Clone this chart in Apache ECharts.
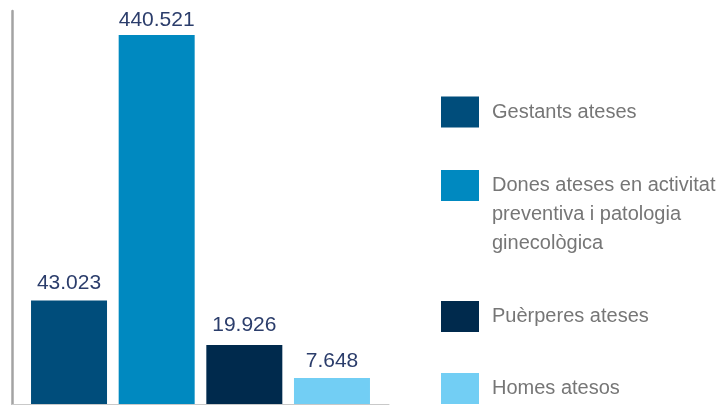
<!DOCTYPE html>
<html>
<head>
<meta charset="utf-8">
<script src="https://cdn.jsdelivr.net/npm/echarts@6/dist/echarts.min.js"></script>
<style>
html,body{margin:0;padding:0;background:#fff;}
#c{width:721px;height:405px;}
</style>
</head>
<body>
<div id="c"></div>
<script>
const categories = ['Gestants ateses', 'Dones ateses en activitat\npreventiva i patologia\nginecològica', 'Puèrperes ateses', 'Homes atesos'];
const values = [43023, 440521, 19926, 7648];
const colors = ['#004d7b', '#0089c0', '#002a4d', '#72cef4'];

function fmt(v){ return String(v).replace(/\B(?=(\d{3})+(?!\d))/g, '.'); }

const labelDist = [7, 4, 9, 6];
const legendTops = [96.5, 113, 301, 373];

const series = categories.map(function(name, i){
  return {
    name: name,
    type: 'bar',
    stack: 'all',
    xAxisIndex: 0, yAxisIndex: 0,
    barWidth: 76,
    itemStyle: { color: colors[i] },
    label: {
      show: true, position: 'top', distance: labelDist[i],
      formatter: function(p){ return fmt(p.value); },
      color: '#2b3d6b', fontSize: 21,
      fontFamily: 'Liberation Sans, Arial, sans-serif'
    },
    data: values.map(function(v, j){ return j === i ? v : '-'; })
  };
});

const legends = categories.map(function(name, i){
  return {
    data: [name],
    orient: 'vertical',
    left: 441, top: legendTops[i],
    padding: 0,
    itemWidth: 38, itemHeight: 31,
    icon: 'rect',
    selectedMode: false,
    formatter: function(n){ return name.indexOf('\n') >= 0 ? '\n\n' + n : n; },
    textStyle: {
      fontSize: 20, color: '#767676', lineHeight: 29,
      fontFamily: 'Liberation Sans, Arial, sans-serif',
      padding: [0, 0, 0, 8]
    }
  };
});

const option = {
  animation: false,
  backgroundColor: '#fff',
  legend: legends,
  grid: [
    { left: 25.2, right: 345.2, top: 11, bottom: 1 },
    { left: 12, right: 332, top: 11, bottom: 0.5 }
  ],
  xAxis: [
    { type: 'category', gridIndex: 0, data: categories, show: false },
    { type: 'value', gridIndex: 1, min: 0, max: 1,
      axisLine: { show: true, lineStyle: { color: '#c9c9c9', width: 1 } },
      axisTick: { show: false }, axisLabel: { show: false }, splitLine: { show: false } }
  ],
  yAxis: [
    { type: 'value', gridIndex: 0, min: 0, max: 447582,
      axisLine: { show: false }, axisTick: { show: false }, axisLabel: { show: false }, splitLine: { show: false },
      breaks: [
        { start: 10000, end: 12570, gap: 0 },
        { start: 25000, end: 35005, gap: 0 },
        { start: 50000, end: 369388, gap: 0 }
      ],
      breakArea: { show: false }
    },
    { type: 'value', gridIndex: 1, min: 0, max: 1,
      axisLine: { show: true, lineStyle: { color: '#a3a3a3', width: 2.5 } },
      axisTick: { show: false }, axisLabel: { show: false }, splitLine: { show: false } }
  ],
  series: series
};

const chart = echarts.init(document.getElementById('c'), null, { renderer: 'canvas' });
chart.setOption(option);
</script>
</body>
</html>
